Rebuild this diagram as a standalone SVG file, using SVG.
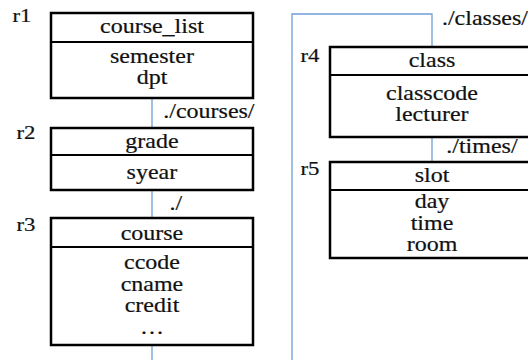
<svg xmlns="http://www.w3.org/2000/svg" width="528" height="360" viewBox="0 0 528 360">
<style>
.box{fill:#fff;stroke:#000;stroke-width:2.5}
.div{stroke:#000;stroke-width:2.2}
.con{fill:none;stroke:#6f9fd8;stroke-width:1.3}
text{font-family:"Liberation Serif","Times New Roman",serif;font-size:20px;fill:#111;stroke:#111;stroke-width:0.2;text-anchor:middle;transform-box:fill-box;transform-origin:center;transform:scaleX(1.2)}
.lab{font-size:19px}
</style>
<rect width="528" height="360" fill="#fff"/>
<g id="connectors">
<line class="con" x1="152" y1="98" x2="152" y2="128"/>
<line class="con" x1="152" y1="190" x2="152" y2="218"/>
<line class="con" x1="152" y1="345" x2="152" y2="360"/>
<path class="con" d="M292,360 V14 H432 V47"/>
<line class="con" x1="432" y1="137" x2="432" y2="162"/>
<text x="209" y="118">./courses/</text>
<text x="176" y="210">./</text>
<text x="485" y="25">./classes/</text>
<text x="482" y="153">./times/</text>
</g>
<g id="r1">
<rect class="box" x="51" y="13" width="202" height="85"/>
<line class="div" x1="51" y1="42" x2="253" y2="42"/>
<text class="lab" x="22" y="22">r1</text>
<text x="152" y="33">course_list</text>
<text x="152" y="63">semester</text>
<text x="152" y="84">dpt</text>
</g>
<g id="r2">
<rect class="box" x="51" y="128" width="202" height="62"/>
<line class="div" x1="51" y1="155" x2="253" y2="155"/>
<text class="lab" x="26" y="139">r2</text>
<text x="152" y="148">grade</text>
<text x="152" y="179">syear</text>
</g>
<g id="r3">
<rect class="box" x="51" y="218" width="202" height="127"/>
<line class="div" x1="51" y1="247" x2="253" y2="247"/>
<text class="lab" x="26" y="231">r3</text>
<text x="152" y="240">course</text>
<text x="152" y="269">ccode</text>
<text x="152" y="291">cname</text>
<text x="152" y="312">credit</text>
<text x="152" y="334">…</text>
</g>
<g id="r4">
<rect class="box" x="330" y="47" width="210" height="90"/>
<line class="div" x1="330" y1="75" x2="540" y2="75"/>
<text class="lab" x="310" y="62">r4</text>
<text x="432" y="67">class</text>
<text x="432" y="100">classcode</text>
<text x="432" y="121">lecturer</text>
</g>
<g id="r5">
<rect class="box" x="330" y="162" width="210" height="96"/>
<line class="div" x1="330" y1="190" x2="540" y2="190"/>
<text class="lab" x="310" y="175">r5</text>
<text x="432" y="182">slot</text>
<text x="432" y="208">day</text>
<text x="432" y="230">time</text>
<text x="432" y="251">room</text>
</g>
</svg>
